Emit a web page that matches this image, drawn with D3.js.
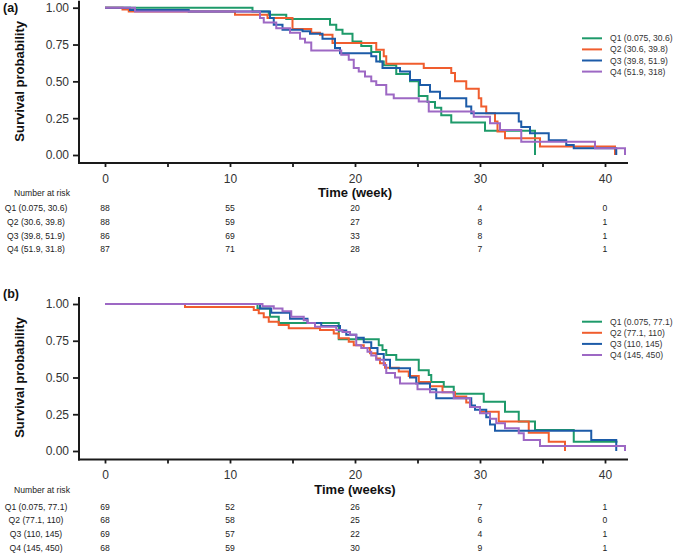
<!DOCTYPE html>
<html>
<head>
<meta charset="utf-8">
<script src="https://cdn.jsdelivr.net/npm/d3@7"></script>
<style>
  html, body { margin: 0; padding: 0; background: #fff; }
  svg { display: block; font-family: "Liberation Sans", Arial, sans-serif; }
</style>
</head>
<body>
<svg id="chart" width="677" height="554"></svg>
<script>
// ---------- DATA ----------
const xTicks = [0, 5, 10, 15, 20, 25, 30, 35, 40];
const xTickLabels = [0, 10, 20, 30, 40];
const yTicks = [0, 0.25, 0.5, 0.75, 1];
const groupNames = ["Q1", "Q2", "Q3", "Q4"];
const seriesColors = ["#1e9a6a", "#f05d2e", "#1c5ba8", "#9d68c4"];

// Panel (a)
const aLegend = ["Q1 (0.075, 30.6)", "Q2 (30.6, 39.8)", "Q3 (39.8, 51.9)", "Q4 (51.9, 318)"];
const aRiskLabels = ["Q1 (0.075, 30.6)", "Q2 (30.6, 39.8)", "Q3 (39.8, 51.9)", "Q4 (51.9, 31.8)"];
const aRisk = [[88, 55, 20, 4, 0], [88, 59, 27, 8, 1], [86, 69, 33, 8, 1], [87, 71, 28, 7, 1]];
const aQ1Time = [0, 11.8, 13.1, 14.5, 18.0, 18.5, 19.0, 19.8, 20.5, 21.3, 22.0, 22.3, 23.3, 24.4, 25.1, 25.8, 26.4, 26.9, 27.7, 30.4, 34.4];
const aQ1Surv = [1, 0.975, 0.952, 0.923, 0.884, 0.85, 0.823, 0.77, 0.74, 0.70, 0.635, 0.61, 0.55, 0.50, 0.40, 0.36, 0.32, 0.27, 0.22, 0.165, 0];
const aQ2Time = [0, 1.4, 1.9, 10.4, 13.0, 15.0, 16.5, 17.2, 18.2, 21.7, 22.3, 22.5, 25.5, 27.7, 28.0, 28.9, 29.9, 30.1, 30.5, 31.2, 31.4, 32.0, 34.8, 40.8];
const aQ2Surv = [1, 0.988, 0.975, 0.952, 0.93, 0.855, 0.83, 0.816, 0.76, 0.714, 0.67, 0.62, 0.59, 0.556, 0.50, 0.45, 0.386, 0.33, 0.284, 0.227, 0.16, 0.114, 0.057, 0];
const aQ3Time = [0, 2.0, 6.7, 13.2, 13.5, 14.2, 15.8, 16.4, 17.4, 18.4, 18.8, 21.3, 21.7, 22.2, 23.6, 24.4, 25.2, 26.0, 26.8, 28.9, 29.3, 33.1, 33.3, 34.0, 35.5, 36.9, 37.5, 40.9];
const aQ3Surv = [1, 0.985, 0.975, 0.93, 0.884, 0.85, 0.84, 0.823, 0.79, 0.726, 0.69, 0.67, 0.635, 0.59, 0.567, 0.51, 0.476, 0.43, 0.386, 0.33, 0.284, 0.227, 0.19, 0.147, 0.10, 0.068, 0.045, 0];
const aQ4Time = [0, 2.4, 12.4, 12.7, 13.7, 14.8, 15.6, 16.0, 16.5, 18.9, 19.5, 19.9, 20.3, 20.8, 21.3, 21.7, 22.5, 23.1, 25.1, 25.9, 29.5, 30.8, 31.6, 33.3, 39.2, 41.6];
const aQ4Surv = [1, 0.975, 0.93, 0.90, 0.86, 0.83, 0.79, 0.764, 0.71, 0.68, 0.646, 0.59, 0.567, 0.533, 0.50, 0.476, 0.41, 0.386, 0.363, 0.295, 0.26, 0.215, 0.17, 0.09, 0.045, 0];

// Panel (b)
const bLegend = ["Q1 (0.075, 77.1)", "Q2 (77.1, 110)", "Q3 (110, 145)", "Q4 (145, 450)"];
const bRiskLabels = ["Q1 (0.075, 77.1)", "Q2 (77.1, 110)", "Q3 (110, 145)", "Q4 (145, 450)"];
const bRisk = [[69, 52, 26, 7, 1], [68, 58, 25, 6, 0], [69, 57, 22, 4, 1], [68, 59, 30, 9, 1]];
const bQ1Time = [0, 12.2, 13.2, 13.9, 18.7, 21.9, 22.2, 22.5, 23.3, 25.1, 25.9, 26.1, 27.1, 27.9, 30.3, 32.0, 33.1, 34.4, 37.5, 41.0];
const bQ1Surv = [1, 0.97, 0.914, 0.87, 0.76, 0.72, 0.687, 0.653, 0.62, 0.55, 0.517, 0.47, 0.437, 0.39, 0.335, 0.267, 0.20, 0.143, 0.063, 0.063];
const bQ2Time = [0, 6.4, 11.9, 12.3, 12.7, 13.1, 13.9, 14.7, 17.2, 18.3, 18.7, 19.5, 19.9, 20.7, 21.2, 21.7, 22.0, 22.4, 23.5, 24.3, 25.1, 26.0, 27.0, 28.0, 28.9, 29.3, 30.0, 31.5, 33.9, 35.5, 36.8];
const bQ2Surv = [1, 0.98, 0.96, 0.937, 0.91, 0.88, 0.857, 0.835, 0.823, 0.80, 0.767, 0.744, 0.72, 0.70, 0.665, 0.63, 0.597, 0.567, 0.54, 0.51, 0.47, 0.44, 0.40, 0.37, 0.33, 0.30, 0.267, 0.20, 0.125, 0.063, 0];
const bQ3Time = [0, 12.4, 13.3, 14.8, 16.2, 17.3, 18.8, 19.3, 20.1, 20.7, 21.3, 21.8, 22.3, 22.8, 24.4, 24.9, 26.0, 26.5, 29.3, 29.6, 30.5, 30.8, 31.2, 38.9, 40.9];
const bQ3Surv = [1, 0.97, 0.94, 0.90, 0.87, 0.85, 0.82, 0.79, 0.77, 0.74, 0.70, 0.66, 0.62, 0.563, 0.50, 0.46, 0.42, 0.358, 0.31, 0.28, 0.23, 0.18, 0.138, 0.075, 0];
const bQ4Time = [0, 12.6, 13.5, 14.2, 14.9, 15.9, 16.2, 16.8, 18.5, 19.0, 19.6, 20.1, 20.5, 21.0, 21.3, 21.7, 22.3, 22.5, 23.2, 23.6, 25.0, 26.0, 27.9, 29.2, 30.0, 30.8, 31.3, 32.0, 33.1, 33.5, 34.8, 41.6];
const bQ4Surv = [1, 0.985, 0.97, 0.95, 0.914, 0.89, 0.87, 0.845, 0.823, 0.81, 0.79, 0.72, 0.70, 0.675, 0.65, 0.62, 0.585, 0.53, 0.50, 0.46, 0.42, 0.40, 0.358, 0.30, 0.256, 0.22, 0.188, 0.154, 0.12, 0.075, 0.034, 0];

// ---------- DRAW ----------
const svg = d3.select("#chart");
const zip = (t, s) => t.map((v, i) => ({ t: v, s: s[i] }));

function drawPanel(cfg) {
  const g = svg.append("g");
  const x = d3.scaleLinear().domain([0, 40]).range([105, 605]);
  const y = d3.scaleLinear().domain([0, 1]).range([cfg.y0, cfg.y1]);
  const axisColor = "#1a1a1a";

  // panel tag
  g.append("text").attr("x", 3).attr("y", cfg.tagY).attr("font-size", 12.5)
    .attr("font-weight", "bold").attr("fill", "#111").text(cfg.tag);

  // y axis
  const yAxis = g.append("g").attr("transform", "translate(79,0)")
    .call(d3.axisLeft(y).tickValues(yTicks).tickFormat(d3.format(".2f")).tickSize(6).tickPadding(4));
  yAxis.select(".domain").remove();
  yAxis.selectAll(".tick line").attr("stroke", axisColor).attr("stroke-width", 1.8);
  yAxis.selectAll(".tick text").attr("font-size", 12).attr("fill", "#333")
    .attr("font-family", "Liberation Sans, Arial, sans-serif");
  g.append("line").attr("x1", 79).attr("x2", 79).attr("y1", cfg.y1 - 7).attr("y2", cfg.axisY + 1)
    .attr("stroke", axisColor).attr("stroke-width", 2);

  // x axis
  const xAxis = g.append("g").attr("transform", `translate(0,${cfg.axisY})`)
    .call(d3.axisBottom(x).tickValues(xTicks)
      .tickFormat(d => xTickLabels.includes(d) ? d : "").tickSize(4).tickPadding(7));
  xAxis.select(".domain").remove();
  xAxis.selectAll(".tick line").attr("stroke", axisColor).attr("stroke-width", 1.8);
  xAxis.selectAll(".tick text").attr("font-size", 12).attr("fill", "#333")
    .attr("font-family", "Liberation Sans, Arial, sans-serif");
  g.append("line").attr("x1", 78).attr("x2", 628).attr("y1", cfg.axisY).attr("y2", cfg.axisY)
    .attr("stroke", axisColor).attr("stroke-width", 2);

  // axis titles
  const yMid = (cfg.y0 + cfg.y1) / 2;
  g.append("text").attr("transform", `translate(23.5,${yMid}) rotate(-90)`)
    .attr("text-anchor", "middle").attr("font-size", 13).attr("font-weight", "bold")
    .attr("fill", "#111").text("Survival probability");
  g.append("text").attr("x", x(20)).attr("y", cfg.titleY).attr("text-anchor", "middle")
    .attr("font-size", 13).attr("font-weight", "bold").attr("fill", "#111").text(cfg.xTitle);

  // curves
  const line = d3.line().x(d => x(d.t)).y(d => y(d.s)).curve(d3.curveStepAfter);
  cfg.series.forEach((sr, i) => {
    g.append("path").datum(zip(sr[0], sr[1])).attr("d", line)
      .attr("fill", "none").attr("stroke", seriesColors[i]).attr("stroke-width", 2);
  });

  // legend
  cfg.legend.forEach((lab, i) => {
    const ly = cfg.legendY + i * 11.1;
    g.append("line").attr("x1", 582).attr("x2", 602).attr("y1", ly).attr("y2", ly)
      .attr("stroke", seriesColors[i]).attr("stroke-width", 2);
    g.append("text").attr("x", 610).attr("y", ly + 3).attr("font-size", 8.6)
      .attr("fill", "#333").text(lab);
  });

  // risk table
  g.append("text").attr("x", 42).attr("y", cfg.riskHeadY).attr("text-anchor", "middle")
    .attr("font-size", 8.6).attr("fill", "#222").text("Number at risk");
  cfg.riskLabels.forEach((lab, i) => {
    const ry = cfg.riskY + i * 13.6;
    g.append("text").attr("x", 36).attr("y", ry).attr("text-anchor", "middle")
      .attr("font-size", 8.6).attr("fill", "#222").text(lab);
    cfg.risk[i].forEach((v, j) => {
      g.append("text").attr("x", x(xTickLabels[j])).attr("y", ry).attr("text-anchor", "middle")
        .attr("font-size", 8.6).attr("fill", "#222").text(v);
    });
  });
}

drawPanel({
  tag: "(a)", tagY: 12, y0: 155, y1: 7.7, axisY: 163, xTitle: "Time (week)", titleY: 196.5,
  legend: aLegend, legendY: 38.3, riskLabels: aRiskLabels, risk: aRisk,
  riskHeadY: 195.5, riskY: 211.3,
  series: [[aQ1Time, aQ1Surv], [aQ2Time, aQ2Surv], [aQ3Time, aQ3Surv], [aQ4Time, aQ4Surv]]
});
drawPanel({
  tag: "(b)", tagY: 298, y0: 451, y1: 304, axisY: 459.5, xTitle: "Time (weeks)", titleY: 493.5,
  legend: bLegend, legendY: 321.7, riskLabels: bRiskLabels, risk: bRisk,
  riskHeadY: 492.5, riskY: 509.7,
  series: [[bQ1Time, bQ1Surv], [bQ2Time, bQ2Surv], [bQ3Time, bQ3Surv], [bQ4Time, bQ4Surv]]
});
</script>
</body>
</html>
